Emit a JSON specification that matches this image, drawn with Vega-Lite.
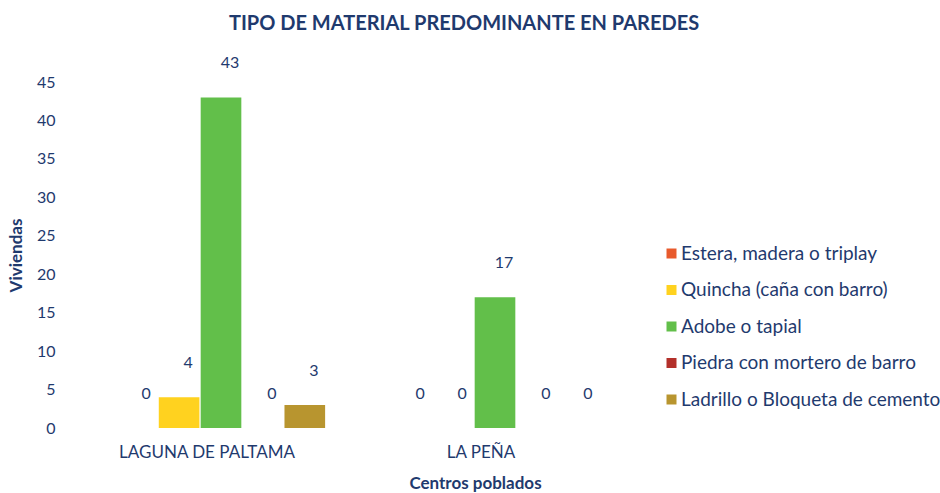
{
  "$schema": "https://vega.github.io/schema/vega-lite/v6.json",
  "width": 548,
  "height": 346,
  "autosize": {"type": "none"},
  "padding": {"left": 84, "top": 82, "right": 308, "bottom": 65},
  "background": "white",
  "config": {
    "view": {"stroke": null},
    "font": "Lato"
  },
  "title": {
    "text": "TIPO DE MATERIAL PREDOMINANTE EN PAREDES",
    "fontSize": 20,
    "fontWeight": "bold",
    "color": "#1F3A6E",
    "anchor": "middle",
    "dx": 106,
    "offset": 21
  },
  "data": {
    "values": [
      {"centro": "LAGUNA DE PALTAMA", "material": "Estera, madera o triplay", "viviendas": 0},
      {"centro": "LAGUNA DE PALTAMA", "material": "Quincha (caña con barro)", "viviendas": 4},
      {"centro": "LAGUNA DE PALTAMA", "material": "Adobe o tapial", "viviendas": 43},
      {"centro": "LAGUNA DE PALTAMA", "material": "Piedra con mortero de barro", "viviendas": 0},
      {"centro": "LAGUNA DE PALTAMA", "material": "Ladrillo o Bloqueta de cemento", "viviendas": 3},
      {"centro": "LA PEÑA", "material": "Estera, madera o triplay", "viviendas": 0},
      {"centro": "LA PEÑA", "material": "Quincha (caña con barro)", "viviendas": 0},
      {"centro": "LA PEÑA", "material": "Adobe o tapial", "viviendas": 17},
      {"centro": "LA PEÑA", "material": "Piedra con mortero de barro", "viviendas": 0},
      {"centro": "LA PEÑA", "material": "Ladrillo o Bloqueta de cemento", "viviendas": 0}
    ]
  },
  "encoding": {
    "x": {
      "field": "centro",
      "type": "nominal",
      "sort": ["LAGUNA DE PALTAMA", "LA PEÑA"],
      "scale": {"paddingInner": 0.24, "paddingOuter": 0.12},
      "axis": {
        "title": "Centros poblados",
        "titleFontSize": 17,
        "titleFontWeight": "bold",
        "titleColor": "#1F3A6E",
        "titlePadding": 15,
        "titleX": 391,
        "labelAngle": 0,
        "labelFontSize": 17,
        "labelColor": "#1F3A6E",
        "labelPadding": 16,
        "labelOffset": -14,
        "ticks": false,
        "domain": false
      }
    },
    "xOffset": {
      "field": "material",
      "type": "nominal",
      "sort": ["Estera, madera o triplay", "Quincha (caña con barro)", "Adobe o tapial", "Piedra con mortero de barro", "Ladrillo o Bloqueta de cemento"],
      "scale": {"paddingInner": 0.03}
    },
    "y": {
      "field": "viviendas",
      "type": "quantitative",
      "scale": {"domain": [0, 45]},
      "axis": {
        "title": "Viviendas",
        "titleFontSize": 17,
        "titleFontWeight": "bold",
        "titleColor": "#1F3A6E",
        "titlePadding": 11,
        "values": [0, 5, 10, 15, 20, 25, 30, 35, 40, 45],
        "labelFontSize": 16,
        "labelColor": "#1F3A6E",
        "labelPadding": 29,
        "ticks": false,
        "domain": false,
        "grid": false
      }
    }
  },
  "layer": [
    {
      "mark": {"type": "bar"},
      "encoding": {
        "color": {
          "field": "material",
          "type": "nominal",
          "sort": ["Estera, madera o triplay", "Quincha (caña con barro)", "Adobe o tapial", "Piedra con mortero de barro", "Ladrillo o Bloqueta de cemento"],
          "scale": {
            "domain": ["Estera, madera o triplay", "Quincha (caña con barro)", "Adobe o tapial", "Piedra con mortero de barro", "Ladrillo o Bloqueta de cemento"],
            "range": ["#E85A2C", "#FFD21F", "#62BF4A", "#B3302A", "#B8952F"]
          },
          "legend": {
            "title": null,
            "orient": "none",
            "legendX": 578,
            "legendY": 162,
            "symbolType": "square",
            "symbolSize": 100,
            "labelFontSize": 19,
            "labelColor": "#1F3A6E",
            "labelLimit": 400,
            "rowPadding": 16.5,
            "labelOffset": 0
          }
        }
      }
    },
    {
      "mark": {"type": "text", "baseline": "middle", "dy": -34, "dx": 9, "fontSize": 16, "color": "#1F3A6E"},
      "encoding": {
        "text": {"field": "viviendas", "type": "quantitative"}
      }
    }
  ]
}
